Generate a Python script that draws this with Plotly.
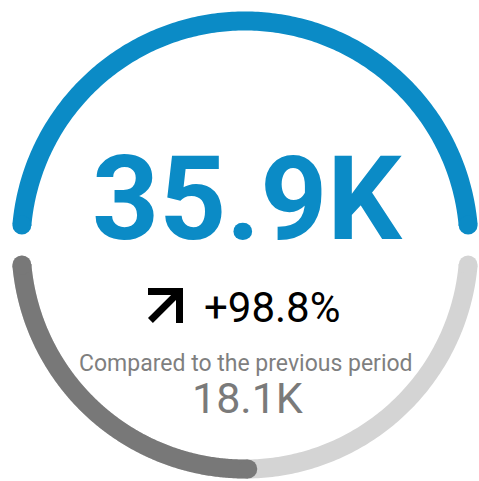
import numpy as np
import plotly.graph_objects as go

# ---- data ----
current_label = "35.9K"
current_value = 35.9
previous_label = "18.1K"
previous_value = 18.1
change_label = "+98.8%"
caption = "Compared to the previous period"

# ---- style ----
BLUE = "#0b8bc6"
DARK = "#787878"
LIGHT = "#d4d4d4"
R = 224
W = 19
GAP = 5.1  # degrees from horizontal at each arc end

ratio = previous_value / current_value


def arc(a0, a1, color):
    th = np.radians(np.linspace(a0, a1, 240))
    x = R * np.cos(th)
    y = R * np.sin(th)
    return [
        go.Scatter(x=x, y=y, mode="lines",
                   line=dict(color=color, width=W, simplify=False),
                   hoverinfo="skip", showlegend=False),
        go.Scatter(x=[x[0], x[-1]], y=[y[0], y[-1]], mode="markers",
                   marker=dict(color=color, size=W, line=dict(width=0)),
                   hoverinfo="skip", showlegend=False),
    ]


fig = go.Figure()
# top arc: current value (full)
for t in arc(GAP, 180 - GAP, BLUE):
    fig.add_trace(t)
# bottom arc: background + previous share
b0, b1 = 180 + GAP, 360 - GAP
for t in arc(b0, b1, LIGHT):
    fig.add_trace(t)
for t in arc(b0, b0 + ratio * (b1 - b0), DARK):
    fig.add_trace(t)

# arrow icon (unit box, y down)
ax0, ay0, s = -97, 43, 35
pts = [(0, 0), (1, 0), (1, 1), (0.8, 1), (0.8, 0.34), (0.14, 1.0), (0, 0.86), (0.66, 0.2), (0, 0.2)]
path = "M " + " L ".join(f"{ax0 + px * s:.1f},{-ay0 - py * s:.1f}" for px, py in pts) + " Z"
fig.add_shape(type="path", path=path, xref="x", yref="y",
              fillcolor="#000000", line=dict(width=0))

fig.add_annotation(x=2, y=46, text=current_label, showarrow=False,
                   font=dict(family="Roboto", size=117, color=BLUE, weight="bold"))
fig.add_annotation(x=27, y=-62, text=change_label, showarrow=False,
                   font=dict(family="Roboto", size=42, color="#000000"))
fig.add_annotation(x=1, y=-118, text=caption, showarrow=False,
                   font=dict(family="Roboto", size=23, color="#7f7f7f"))
fig.add_annotation(x=2, y=-153, text=previous_label, showarrow=False,
                   font=dict(family="Roboto", size=43, color="#7a7a7a"))

fig.update_layout(
    width=479, height=481,
    margin=dict(l=0, r=0, t=0, b=0),
    paper_bgcolor="white", plot_bgcolor="white",
    xaxis=dict(range=[-245, 234], visible=False, fixedrange=True),
    yaxis=dict(range=[-236, 245], visible=False, fixedrange=True),
)
fig.write_html("out.html", config={"displayModeBar": False},
               post_script="document.body.style.margin='0';document.body.style.overflow='hidden';")
